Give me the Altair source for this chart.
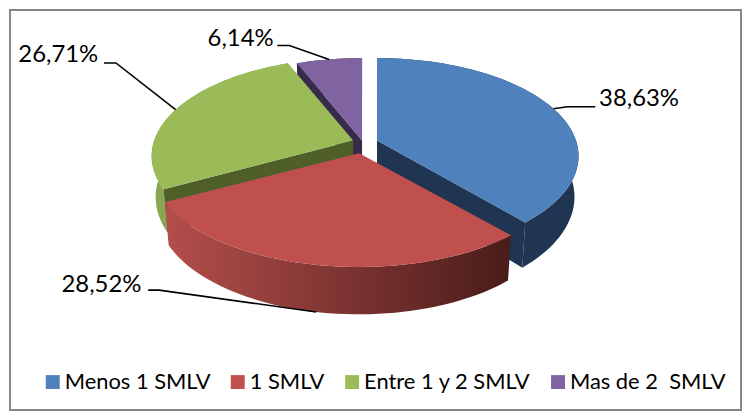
import math
import altair as alt

# ---- data ----
categories = ["Menos 1 SMLV", "1 SMLV", "Entre 1 y 2 SMLV", "Mas de 2  SMLV"]
shares = [38.63, 28.52, 26.71, 6.14]
labels = ["38,63%", "28,52%", "26,71%", "6,14%"]

# ---- styling / 3-D layout ----
top_colors = ["#4f81bd", "#c0504d", "#9bbb59", "#8064a2"]
wall_colors = ["#1f3552", "#6b2d2b", "#8ba652", "#3f3151"]
cut_colors = ["#1f3552", None, "#4f5f28", "#372a4a"]
apexes = [(379, 140), (361, 153), (355, 140), (364, 140)]
rx_scale = [1.0, 1.025, 1.0, 1.0]
RX, RY, K, DEPTH, SHRINK = 200, 96, 0.16, 40, 0.98
leader_offsets = [((14, -2), (42, -2)), ((-158, -22), (-169, -22)),
                  ((-60, -47), (-72, -47)), ((-40, -14), (-52, -14))]
label_offsets = [(86, -10), (-216, -27), (-118, -55), (-89, -20)]
W, H = 740, 405


def rim(i, theta_deg, lower=False):
    t = math.radians(theta_deg)
    ax, ay = apexes[i]
    p = 1 / (1 + K * math.cos(t))
    dx, dy = RX * rx_scale[i] * math.sin(t) * p, -RY * math.cos(t) * p
    if lower:
        return [ax + dx * SHRINK, ay + dy + DEPTH * p]
    return [ax + dx, ay + dy]


def lower_apex(i):
    return [apexes[i][0], apexes[i][1] + DEPTH]


starts, acc = [], 0.0
for s in shares:
    starts.append(acc * 3.6)
    acc += s
ends = [a + s * 3.6 for a, s in zip(starts, shares)]


def steps(a, b):
    n = max(2, int((b - a) / 2))
    return [a + (b - a) * j / n for j in range(n + 1)]


def feature(coords, name, kind="Polygon"):
    geom = {"type": "Polygon", "coordinates": [coords + [coords[0]]]} if kind == "Polygon" \
        else {"type": "LineString", "coordinates": coords}
    return {"type": "Feature", "properties": {"name": name}, "geometry": geom}


def top(i):
    return feature([list(apexes[i])] + [rim(i, a) for a in steps(starts[i], ends[i])], categories[i])


def wall(i):
    a = steps(starts[i], ends[i])
    return feature([rim(i, x) for x in a] + [rim(i, x, True) for x in reversed(a)], categories[i])


def cut(i, theta):
    return feature([list(apexes[i]), rim(i, theta), rim(i, theta, True), lower_apex(i)], categories[i])


projection = dict(type="identity", scale=1, translate=[-8, -8])


def shape(features, **mark):
    return alt.Chart(alt.Data(values=features)).mark_geoshape(strokeWidth=0, **mark).project(**projection)


red_gradient = alt.LinearGradient(
    gradient="linear", x1=0, x2=1, y1=0, y2=0,
    stops=[alt.GradientStop(offset=0, color="#b44e4b"),
           alt.GradientStop(offset=1, color="#491c1a")],
)

layers = [
    # frame
    alt.Chart(alt.Data(values=[feature([[10, 9], [745, 9], [745, 411], [10, 411]], "frame")]))
    .mark_geoshape(fill="#ffffff", stroke="#868686", strokeWidth=2).project(**projection),
    # purple
    shape([wall(3)], fill=wall_colors[3]),
    shape([cut(3, starts[3])], fill=cut_colors[3]),
    shape([top(3)], fill=top_colors[3]),
    # green
    shape([wall(2)], fill=wall_colors[2]),
    shape([cut(2, starts[2])], fill=cut_colors[2]),
    shape([top(2)], fill=top_colors[2]),
    # blue
    shape([wall(0)], fill=wall_colors[0]),
    shape([cut(0, ends[0])], fill=cut_colors[0]),
    shape([top(0)], fill=top_colors[0]),
    # red
    shape([wall(1)], fill=red_gradient),
]

# red top carries the shared colour scale and legend
tops = alt.Chart(alt.Data(values=[top(1)])).mark_geoshape(strokeWidth=0).encode(
    color=alt.Color(
        "properties.name:N",
        scale=alt.Scale(domain=categories, range=top_colors),
        legend=alt.Legend(
            title=None, orient="none", legendX=34, legendY=364, direction="horizontal",
            values=categories, symbolType="square", symbolSize=196, symbolStrokeWidth=0,
            labelFont="Lato", labelFontSize=22, labelColor="#000000", labelOffset=1,
            columnPadding=16, padding=0, labelLimit=300,
            labelExpr="replace(datum.label, '  ', '\u00a0 ')",
        ),
    )
).project(**projection)
layers.append(tops)

# leader lines and labels, anchored at each slice's mid angle
leaders, texts = [], []
for i in range(4):
    mid = (starts[i] + ends[i]) / 2
    anchor = rim(i, mid, lower=(i == 1))
    (d1, d2) = leader_offsets[i]
    pts = [anchor, [anchor[0] + d1[0], anchor[1] + d1[1]], [anchor[0] + d2[0], anchor[1] + d2[1]]]
    leaders.append(feature(pts, categories[i], "LineString"))
    texts.append({"label": labels[i],
                  "lon": anchor[0] + label_offsets[i][0],
                  "lat": anchor[1] + label_offsets[i][1]})

layers.append(
    alt.Chart(alt.Data(values=leaders))
    .mark_geoshape(filled=False, stroke="#000000", strokeWidth=1.6)
    .project(**projection)
)
layers.append(
    alt.Chart(alt.Data(values=texts))
    .mark_text(font="Lato", fontSize=24, color="#000000", align="center", baseline="middle")
    .encode(longitude="lon:Q", latitude="lat:Q", text="label:N")
    .project(**projection)
)

chart = alt.layer(*layers).properties(
    width=W, height=H, padding=0,
    autosize=alt.AutoSizeParams(type="none"),
    background="#ffffff",
).configure_view(stroke=None)

chart.save("out.html", embed_options={"renderer": "svg", "actions": False})
